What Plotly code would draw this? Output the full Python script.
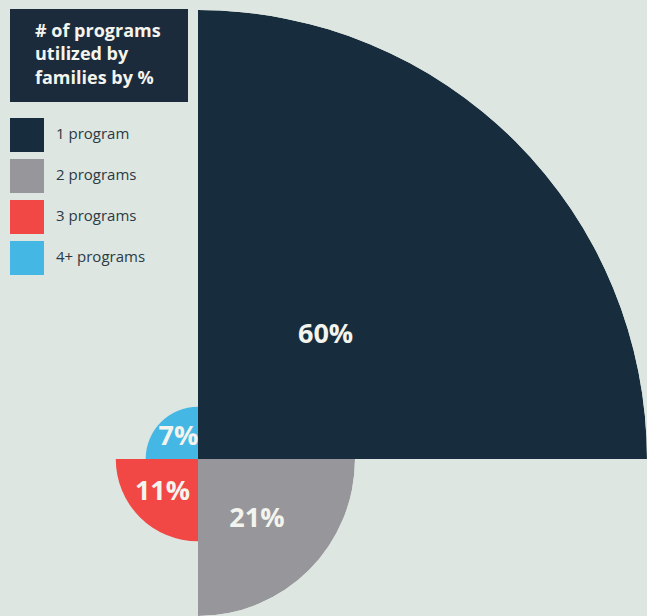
import plotly.graph_objects as go

# ---- data ----
categories = ["1 program", "2 programs", "3 programs", "4+ programs"]
values = [60, 21, 11, 7]
angles = [45, 315, 225, 135]          # quadrant centres (deg)
colors = ["#172d3d", "#97979b", "#f24845", "#45b7e5"]
legend_title = "# of programs<br>utilized by<br>families by %"

W, H = 647, 616
BG = "#dde6e1"
LABEL_FRAC = [0.395, 0.54, 0.6, 0.54]


def px(x):
    return x / W


def py(y):
    return 1 - y / H


fig = go.Figure()

# largest quadrant in its own polar subplot (sector 0-90), others in a second one
for i, (cat, v, a, c) in enumerate(zip(categories, values, angles, colors)):
    sub = "polar" if i == 0 else "polar2"
    fig.add_trace(go.Barpolar(
        r=[v], theta=[a], width=[90], name=cat,
        marker=dict(color=c, line=dict(width=0)),
        subplot=sub, showlegend=False, hoverinfo="skip",
    ))
    fig.add_trace(go.Scatterpolar(
        r=[v * LABEL_FRAC[i]], theta=[a - 1], mode="text",
        text=[f"<b>{v}%</b>"], textposition="middle center",
        textfont=dict(family="Open Sans", size=27, color="#f4f4ee"),
        subplot=sub, showlegend=False, hoverinfo="skip", cliponaxis=False,
    ))

axis_off = dict(showgrid=False, showline=False, showticklabels=False, ticks="")
fig.update_layout(
    width=W, height=H,
    margin=dict(l=0, r=0, t=0, b=0),
    paper_bgcolor=BG, plot_bgcolor=BG,
    polar=dict(
        domain=dict(x=[px(198), 1], y=[py(459), py(10)]),
        sector=[0, 90], bgcolor=BG,
        radialaxis=dict(range=[0, values[0]], **axis_off),
        angularaxis=dict(**axis_off),
    ),
    polar2=dict(
        domain=dict(x=[px(41), px(355)], y=[0, py(302)]),
        sector=[90, 360], bgcolor=BG,
        radialaxis=dict(range=[0, values[1]], **axis_off),
        angularaxis=dict(**axis_off),
    ),
)

# ---- manual legend ----
shapes = [dict(type="rect", xref="paper", yref="paper",
               x0=px(10), x1=px(188), y0=py(102), y1=py(9),
               fillcolor="#1c2b3b", line=dict(width=0), layer="above")]
annotations = [dict(xref="paper", yref="paper", x=px(33), y=py(16),
                    xanchor="left", yanchor="top", align="left",
                    text=f"<b>{legend_title}</b>", showarrow=False,
                    font=dict(family="Open Sans", size=18, color="#f4f4ee"))]
for i, (cat, c) in enumerate(zip(categories, colors)):
    top = 118 + 41 * i
    shapes.append(dict(type="rect", xref="paper", yref="paper",
                       x0=px(10), x1=px(44), y0=py(top + 34), y1=py(top),
                       fillcolor=c, line=dict(width=0), layer="above"))
    annotations.append(dict(xref="paper", yref="paper", x=px(54), y=py(top + 15),
                            xanchor="left", yanchor="middle", text=cat,
                            showarrow=False,
                            font=dict(family="Open Sans", size=15, color="#2b3a45")))
fig.update_layout(shapes=shapes, annotations=annotations)

fig.write_html("out.html")
